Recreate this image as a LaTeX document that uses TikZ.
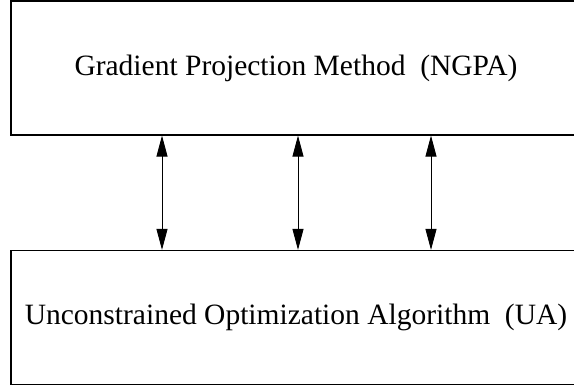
\documentclass[tikz,border=0pt]{standalone}
\usepackage{fontspec}
\setmainfont{Liberation Serif}
\usetikzlibrary{arrows.meta}
\tikzset{
  blockbox/.style={draw, line width=1.2pt, minimum width=570pt, minimum height=134pt, inner sep=0pt, font=\fontsize{29.5}{34}\selectfont},
  linkarrow/.style={line width=0.9pt, {Triangle[length=21pt,width=11pt]}-{Triangle[length=21pt,width=11pt]}}
}
\begin{document}
\begin{tikzpicture}[x=1pt,y=1pt]
\useasboundingbox (0,0) rectangle (574,391);
\node[blockbox] (gpm) at (296,323) {Gradient Projection Method\ \ (NGPA)};
\node[blockbox] (ua) at (296,73.5) {Unconstrained Optimization Algorithm\ \ (UA)};
\draw[linkarrow] ([xshift=-134pt]gpm.south) -- ([xshift=-134pt]ua.north);
\draw[linkarrow] ([xshift=2pt]gpm.south) -- ([xshift=2pt]ua.north);
\draw[linkarrow] ([xshift=135pt]gpm.south) -- ([xshift=135pt]ua.north);
\end{tikzpicture}
\end{document}
